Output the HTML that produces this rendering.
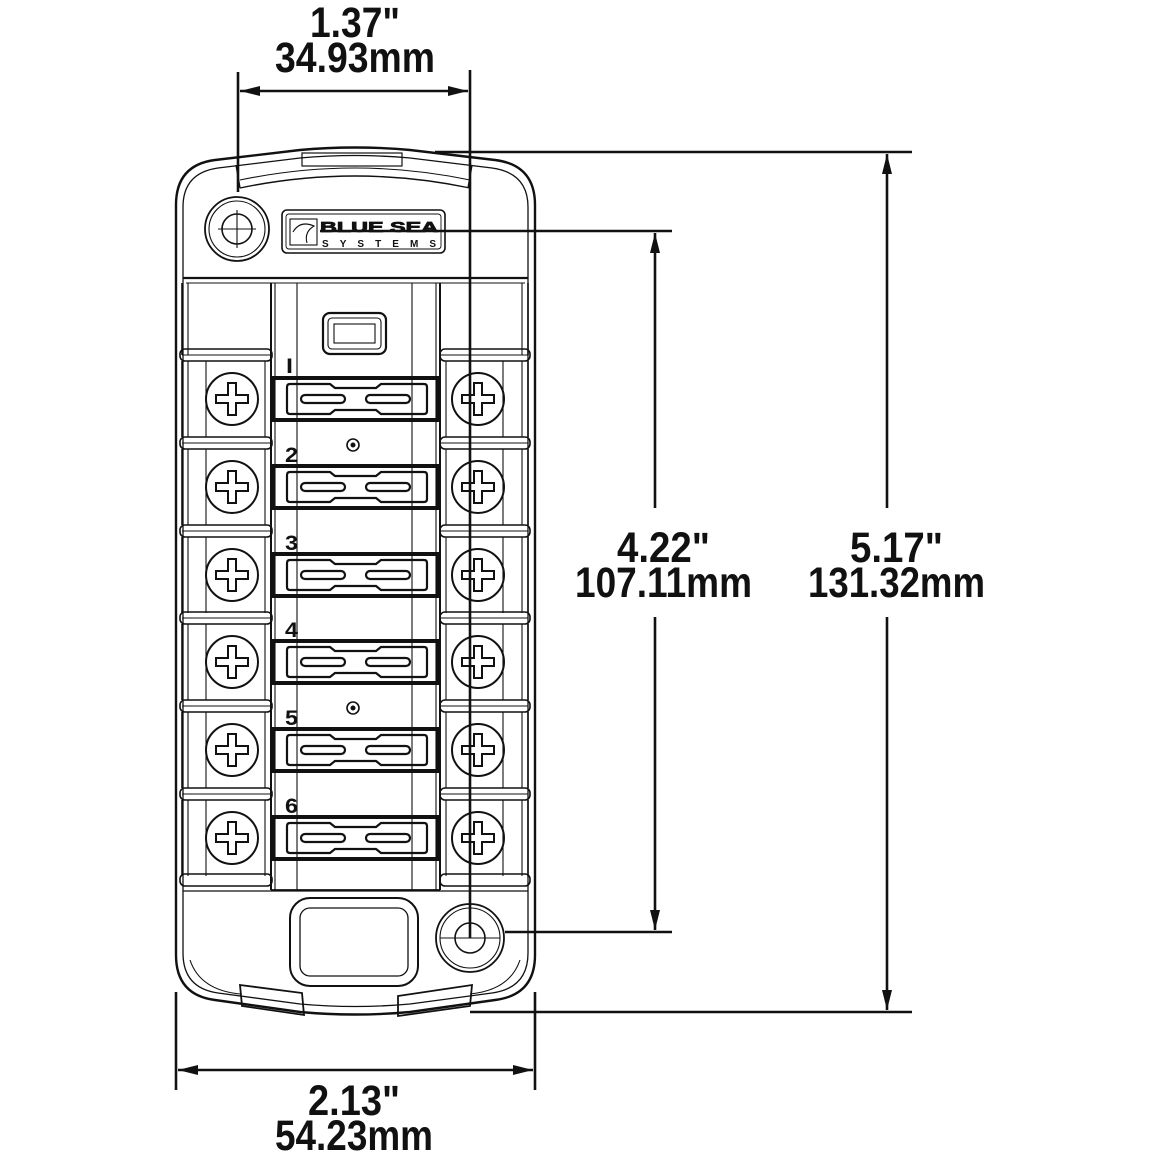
<!DOCTYPE html>
<html><head><meta charset="utf-8"><style>
html,body{margin:0;padding:0;background:#fff}
svg{display:block}
text{font-family:"Liberation Sans",sans-serif;fill:#111}
</style></head><body>
<svg width="1163" height="1163" viewBox="0 0 1163 1163" xmlns="http://www.w3.org/2000/svg">
<defs>
<marker id="ah" viewBox="0 0 20 10" refX="20" refY="5" markerWidth="20" markerHeight="10" markerUnits="userSpaceOnUse" orient="auto-start-reverse">
<path d="M0,0 L20,5 L0,10 Z" fill="#111"/>
</marker>
<g id="row" fill="none" stroke="#111">
  <rect x="180" y="-50" width="92" height="12" rx="5" stroke-width="1.6"/>
  <rect x="440" y="-50" width="90" height="12" rx="5" stroke-width="1.6"/>
  <line x1="182" y1="-44" x2="272" y2="-44" stroke-width="1"/>
  <line x1="440" y1="-44" x2="528" y2="-44" stroke-width="1"/>
  <line x1="182" y1="-38" x2="182" y2="38" stroke-width="1.6"/>
  <line x1="188" y1="-38" x2="188" y2="38" stroke-width="1.1"/>
  <line x1="206" y1="-38" x2="206" y2="38" stroke-width="1.1"/>
  <line x1="265" y1="-38" x2="265" y2="38" stroke-width="1.1"/>
  <line x1="528" y1="-38" x2="528" y2="38" stroke-width="1.6"/>
  <line x1="522" y1="-38" x2="522" y2="38" stroke-width="1.1"/>
  <line x1="503" y1="-38" x2="503" y2="38" stroke-width="1.1"/>
  <line x1="446" y1="-38" x2="446" y2="38" stroke-width="1.1"/>
  <circle cx="232" cy="0" r="26" stroke-width="2"/>
  <path d="M228,-16 h8 v12 h12 v8 h-12 v12 h-8 v-12 h-12 v-8 h12 z" stroke-width="2"/>
  <circle cx="478" cy="0" r="26" stroke-width="2"/>
  <path d="M474,-16 h8 v12 h12 v8 h-12 v12 h-8 v-12 h-12 v-8 h12 z" stroke-width="2"/>
  <rect x="273" y="-21" width="165" height="42" stroke-width="4"/>
  <path d="M290,-15 H330 L335,-11 H376 L381,-15 H424 Q427,-15 427,-12 V12 Q427,15 424,15 H381 L376,11 H335 L330,15 H290 Q287,15 287,12 V-12 Q287,-15 290,-15 Z" stroke-width="2.2"/>
  <rect x="301" y="-4" width="44" height="8" rx="4" stroke-width="2.2"/>
  <rect x="366" y="-4" width="44" height="8" rx="4" stroke-width="2.2"/>
</g>
</defs>

<g fill="none" stroke="#111">
  <path d="M176,205 Q176,165 215,160 L300,150 Q355,145 410,150 L495,160 Q535,165 535,205 V955 Q535,995 495,1000 L410,1012 Q355,1017 300,1012 L215,1000 Q176,995 176,955 Z" stroke-width="2.4"/>
  <path d="M183,207 Q183,173 218,168 L300,158 Q355,153 410,158 L492,168 Q528,173 528,207 V953 Q528,988 492,993 L410,1004 Q355,1009 300,1004 L218,993 Q183,988 183,953 Z" stroke-width="1.3"/>
  <path d="M240,188 Q355,164 470,188" stroke-width="1.4"/>
  <path d="M240,180 Q355,156 470,180" stroke-width="1.1"/>
  <rect x="302" y="153" width="100" height="13" stroke-width="1.2" />
  <line x1="236" y1="165" x2="240" y2="188" stroke-width="1.4"/>
  <line x1="472" y1="165" x2="468" y2="188" stroke-width="1.4"/>
  <line x1="183" y1="278" x2="528" y2="278" stroke-width="2.2"/>
  <line x1="186" y1="283" x2="525" y2="283" stroke-width="1.1"/>
  <circle cx="237" cy="229" r="32" stroke-width="1.8"/>
  <circle cx="237" cy="229" r="28" stroke-width="1.1"/>
  <circle cx="237" cy="229" r="15" stroke-width="1.6"/>
  <line x1="218" y1="229" x2="256" y2="229" stroke-width="1.1"/>
  <line x1="237" y1="210" x2="237" y2="248" stroke-width="1.1"/>
  <rect x="282" y="210" width="163" height="43" rx="5" stroke-width="1.6"/>
  <rect x="286" y="214" width="155" height="35" rx="3" stroke-width="0.9"/>
  <rect x="290" y="219" width="27" height="26" stroke-width="1.1"/>
  <path d="M293,232 Q300,220 314,226 Q304,232 307,243" stroke-width="1.1"/>
  <line x1="182" y1="283" x2="182" y2="355" stroke-width="1.6"/>
  <line x1="188" y1="283" x2="188" y2="355" stroke-width="1.1"/>
  <line x1="528" y1="283" x2="528" y2="355" stroke-width="1.6"/>
  <line x1="522" y1="283" x2="522" y2="355" stroke-width="1.1"/>
  <line x1="271" y1="283" x2="271" y2="890" stroke-width="2"/>
  <line x1="275" y1="283" x2="275" y2="890" stroke-width="1.1"/>
  <line x1="440" y1="283" x2="440" y2="890" stroke-width="2"/>
  <line x1="436" y1="283" x2="436" y2="890" stroke-width="1.1"/>
  <line x1="297" y1="283" x2="297" y2="890" stroke-width="1.1"/>
  <line x1="412" y1="283" x2="412" y2="890" stroke-width="1.1"/>
  <line x1="271" y1="890" x2="440" y2="890" stroke-width="1.8"/>
  <rect x="323" y="313" width="63" height="41" rx="7" stroke-width="2.2"/>
  <rect x="328" y="318" width="53" height="31" rx="4" stroke-width="1.1"/>
  <rect x="334" y="324" width="41" height="19" stroke-width="1.1"/>
  <circle cx="353" cy="445" r="6" stroke-width="1.6"/>
  <circle cx="353" cy="445" r="2" fill="#111"/>
  <circle cx="353" cy="708" r="6" stroke-width="1.6"/>
  <circle cx="353" cy="708" r="2" fill="#111"/>
  <rect x="180" y="874" width="92" height="12" rx="5" stroke-width="1.6"/>
  <rect x="440" y="874" width="90" height="12" rx="5" stroke-width="1.6"/>
  <line x1="183" y1="891" x2="528" y2="891" stroke-width="1.3"/>
  <rect x="290" y="898" width="128" height="88" rx="20" stroke-width="2"/>
  <rect x="300" y="908" width="108" height="68" rx="10" stroke-width="1.3"/>
  <circle cx="470" cy="938" r="34" stroke-width="1.8"/>
  <circle cx="470" cy="938" r="30" stroke-width="1.1"/>
  <circle cx="470" cy="938" r="15" stroke-width="1.6"/>
  <line x1="440" y1="938" x2="500" y2="938" stroke-width="1.1"/>
  <path d="M240,985 L302,993 L304,1015 L242,1006 Z" stroke-width="1.8"/>
  <path d="M398,996 L472,985 L470,1006 L398,1016 Z" stroke-width="1.8"/>
  <path d="M190,960 Q200,990 240,994 M520,960 Q510,990 470,994" stroke-width="1.1"/>
</g>

<use href="#row" transform="translate(0,399)"/>
<use href="#row" transform="translate(0,487)"/>
<use href="#row" transform="translate(0,575)"/>
<use href="#row" transform="translate(0,662)"/>
<use href="#row" transform="translate(0,750)"/>
<use href="#row" transform="translate(0,838)"/>

<g font-weight="bold" font-size="21">
<text x="286" y="373" textLength="7" lengthAdjust="spacingAndGlyphs">I</text>
<text x="285" y="462" textLength="13" lengthAdjust="spacingAndGlyphs">2</text>
<text x="285" y="550" textLength="13" lengthAdjust="spacingAndGlyphs">3</text>
<text x="285" y="637" textLength="13" lengthAdjust="spacingAndGlyphs">4</text>
<text x="285" y="725" textLength="13" lengthAdjust="spacingAndGlyphs">5</text>
<text x="285" y="813" textLength="13" lengthAdjust="spacingAndGlyphs">6</text>
</g>
<g font-family="Liberation Serif" font-size="15" font-weight="bold">
<text x="320" y="232" textLength="118" lengthAdjust="spacingAndGlyphs" fill="none" stroke="#111" stroke-width="0.8">BLUE SEA</text>
<text x="322" y="247" font-size="10" textLength="114" lengthAdjust="spacing" fill="#111">SYSTEMS</text>
</g>

<g stroke="#111" stroke-width="2.6" fill="none">
  <line x1="238" y1="72" x2="238" y2="192"/>
  <line x1="470" y1="70" x2="470" y2="938"/>
  <line x1="240" y1="91" x2="468" y2="91" marker-start="url(#ah)" marker-end="url(#ah)"/>
  <line x1="435" y1="152" x2="912" y2="152"/>
  <line x1="470" y1="1012" x2="912" y2="1012"/>
  <line x1="320" y1="231" x2="672" y2="231"/>
  <line x1="505" y1="932" x2="672" y2="932"/>
  <line x1="655" y1="233" x2="655" y2="508" marker-start="url(#ah)"/>
  <line x1="655" y1="617" x2="655" y2="930" marker-end="url(#ah)"/>
  <line x1="887" y1="154" x2="887" y2="508" marker-start="url(#ah)"/>
  <line x1="887" y1="617" x2="887" y2="1010" marker-end="url(#ah)"/>
  <line x1="176" y1="992" x2="176" y2="1090"/>
  <line x1="535" y1="992" x2="535" y2="1090"/>
  <line x1="178" y1="1070" x2="533" y2="1070" marker-start="url(#ah)" marker-end="url(#ah)"/>
</g>
<g font-size="43" font-weight="bold">
<text x="310" y="37" textLength="90" lengthAdjust="spacingAndGlyphs">1.37"</text>
<text x="275" y="72" textLength="160" lengthAdjust="spacingAndGlyphs">34.93mm</text>
<text x="617" y="562" textLength="93" lengthAdjust="spacingAndGlyphs">4.22"</text>
<text x="575" y="597" textLength="177" lengthAdjust="spacingAndGlyphs">107.11mm</text>
<text x="850" y="562" textLength="93" lengthAdjust="spacingAndGlyphs">5.17"</text>
<text x="808" y="597" textLength="177" lengthAdjust="spacingAndGlyphs">131.32mm</text>
<text x="308" y="1115" textLength="92" lengthAdjust="spacingAndGlyphs">2.13"</text>
<text x="275" y="1150" textLength="158" lengthAdjust="spacingAndGlyphs">54.23mm</text>
</g>
</svg>
</body></html>
